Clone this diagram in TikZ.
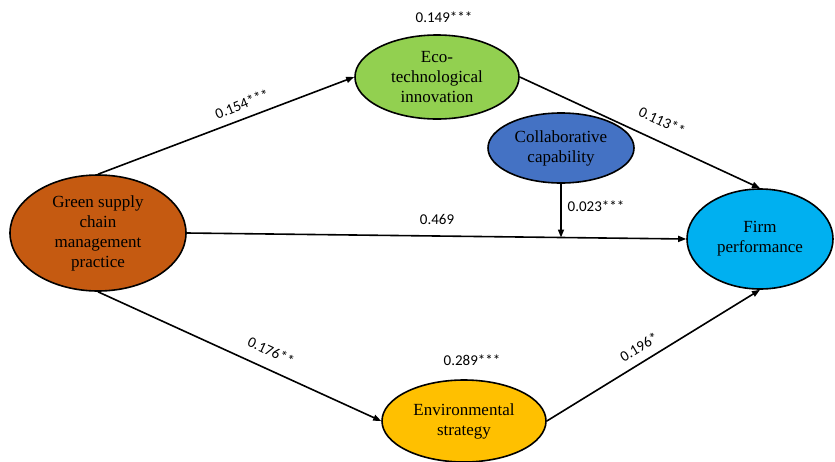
\documentclass[tikz,border=0pt]{standalone}
\usepackage{fontspec}
\setmainfont{Liberation Serif}
\newfontfamily\labfont{Carlito}
\usetikzlibrary{shapes.geometric,arrows.meta,calc}
\definecolor{cgscm}{HTML}{C55A11}
\definecolor{ceco}{HTML}{92D050}
\definecolor{ccol}{HTML}{4472C4}
\definecolor{cfirm}{HTML}{00B0F0}
\definecolor{cenv}{HTML}{FFC000}
\tikzset{
  constr/.style={ellipse, draw=black, line width=1.6pt, inner sep=0pt, align=center,
    font=\fontsize{17}{20}\selectfont},
  path/.style={line width=1.6pt, -{Triangle[length=8pt,width=6pt]}},
  coef/.style={font=\labfont\fontsize{15}{17}\selectfont, inner sep=0pt}
}
\begin{document}
\begin{tikzpicture}[x=1pt,y=-1pt]
\useasboundingbox (0,0) rectangle (835,461);
\node[constr, fill=cgscm, minimum width=176pt, minimum height=116pt] (gscm) at (98,233) {Green supply\\chain\\management\\practice};
\node[constr, fill=ceco, minimum width=164pt, minimum height=84pt] (eco) at (437,77) {Eco-\\technological\\innovation};
\node[constr, fill=ccol, minimum width=146pt, minimum height=70pt] (col) at (561,148) {Collaborative\\capability};
\node[constr, fill=cfirm, minimum width=146pt, minimum height=100pt] (firm) at (760,239) {Firm\\performance};
\node[constr, fill=cenv, minimum width=164pt, minimum height=82pt] (env) at (464,421) {Environmental\\strategy};

\draw[path] (gscm.north) -- (eco.west);
\draw[path] (eco.east) -- (firm.north);
\draw[path] (gscm.east) -- (firm.west);
\coordinate (m) at ($(gscm.east)!0.75!(firm.west)$);
\draw[path] (col.south) -- (col.south |- m);
\draw[path] (gscm.south) -- (env.west);
\draw[path] (env.east) -- (firm.south);

\node[coef] (l1) at (444,17) {0.149***};
\node[coef, rotate=22] (l2) at (242,104) {0.154***};
\node[coef, rotate=-25] (l3) at (662,121) {0.113**};
\node[coef] (l4) at (437,219) {0.469};
\node[coef] (l5) at (596,206) {0.023***};
\node[coef, rotate=-25] (l6) at (271,351) {0.176**};
\node[coef] (l7) at (472,360) {0.289***};
\node[coef, rotate=31] (l8) at (639,347) {0.196*};
\end{tikzpicture}
\end{document}
